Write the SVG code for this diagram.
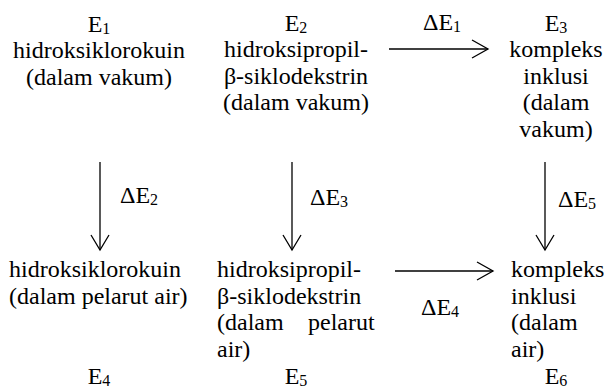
<svg xmlns="http://www.w3.org/2000/svg" width="604" height="391" viewBox="0 0 604 391" font-family="Liberation Serif" font-size="24">
<style>
.t{font-family:'Liberation Serif',serif !important;font-size:24px;fill:#000}
.c{text-anchor:middle}
.s{font-size:16px}
.ln{stroke:#000;stroke-width:1.3;fill:none}
</style>
<rect width="604" height="391" fill="#fff"/>
<g id="connectors">
<line class="ln" x1="389" y1="49" x2="488" y2="49"/>
<polyline class="ln" points="472,40 488,49 472,58"/>
<line class="ln" x1="395" y1="271" x2="493" y2="271"/>
<polyline class="ln" points="477,262 493,271 477,280"/>
<line class="ln" x1="100" y1="162" x2="100" y2="250"/>
<polyline class="ln" points="91,235 100,250 109,235"/>
<line class="ln" x1="292" y1="162" x2="292" y2="250"/>
<polyline class="ln" points="283,235 292,250 301,235"/>
<line class="ln" x1="545" y1="162" x2="545" y2="250"/>
<polyline class="ln" points="536,235 545,250 554,235"/>
<text class="t" style="font-family:'Liberation Serif',serif !important" x="423" y="30">ΔE<tspan class="s" dy="2">1</tspan></text>
<text class="t" style="font-family:'Liberation Serif',serif !important" x="421" y="315">ΔE<tspan class="s" dy="2">4</tspan></text>
<text class="t" style="font-family:'Liberation Serif',serif !important" x="120" y="203">ΔE<tspan class="s" dy="2">2</tspan></text>
<text class="t" style="font-family:'Liberation Serif',serif !important" x="310" y="205">ΔE<tspan class="s" dy="2">3</tspan></text>
<text class="t" style="font-family:'Liberation Serif',serif !important" x="558" y="207">ΔE<tspan class="s" dy="2">5</tspan></text>
</g>
<g id="E1">
<text class="t c" style="font-family:'Liberation Serif',serif !important" x="99" y="32">E<tspan class="s" dy="2">1</tspan></text>
<text class="t c" style="font-family:'Liberation Serif',serif !important" x="99" y="58">hidroksiklorokuin</text>
<text class="t c" style="font-family:'Liberation Serif',serif !important" x="99" y="85">(dalam vakum)</text>
</g>
<g id="E2">
<text class="t c" style="font-family:'Liberation Serif',serif !important" x="296" y="31">E<tspan class="s" dy="2">2</tspan></text>
<text class="t c" style="font-family:'Liberation Serif',serif !important" x="296" y="57">hidroksipropil-</text>
<text class="t c" style="font-family:'Liberation Serif',serif !important" x="296" y="84">β-siklodekstrin</text>
<text class="t c" style="font-family:'Liberation Serif',serif !important" x="296" y="110">(dalam vakum)</text>
</g>
<g id="E3">
<text class="t c" style="font-family:'Liberation Serif',serif !important" x="556" y="31">E<tspan class="s" dy="2">3</tspan></text>
<text class="t c" style="font-family:'Liberation Serif',serif !important" x="556" y="57">kompleks</text>
<text class="t c" style="font-family:'Liberation Serif',serif !important" x="556" y="84">inklusi</text>
<text class="t c" style="font-family:'Liberation Serif',serif !important" x="556" y="110">(dalam</text>
<text class="t c" style="font-family:'Liberation Serif',serif !important" x="556" y="137">vakum)</text>
</g>
<g id="E4">
<text class="t" style="font-family:'Liberation Serif',serif !important" x="9" y="277">hidroksiklorokuin</text>
<text class="t" style="font-family:'Liberation Serif',serif !important" x="9" y="304">(dalam pelarut air)</text>
<text class="t c" style="font-family:'Liberation Serif',serif !important" x="99" y="384">E<tspan class="s" dy="2">4</tspan></text>
</g>
<g id="E5">
<text class="t" style="font-family:'Liberation Serif',serif !important" x="217" y="277">hidroksipropil-</text>
<text class="t" style="font-family:'Liberation Serif',serif !important" x="217" y="304">β-siklodekstrin</text>
<text class="t" style="font-family:'Liberation Serif',serif !important" x="217" y="330">(dalam<tspan x="308">pelarut</tspan></text>
<text class="t" style="font-family:'Liberation Serif',serif !important" x="217" y="357">air)</text>
<text class="t c" style="font-family:'Liberation Serif',serif !important" x="296" y="384">E<tspan class="s" dy="2">5</tspan></text>
</g>
<g id="E6">
<text class="t" style="font-family:'Liberation Serif',serif !important" x="511" y="277">kompleks</text>
<text class="t" style="font-family:'Liberation Serif',serif !important" x="511" y="304">inklusi</text>
<text class="t" style="font-family:'Liberation Serif',serif !important" x="511" y="330">(dalam</text>
<text class="t" style="font-family:'Liberation Serif',serif !important" x="511" y="357">air)</text>
<text class="t c" style="font-family:'Liberation Serif',serif !important" x="556" y="384">E<tspan class="s" dy="2">6</tspan></text>
</g>
</svg>
